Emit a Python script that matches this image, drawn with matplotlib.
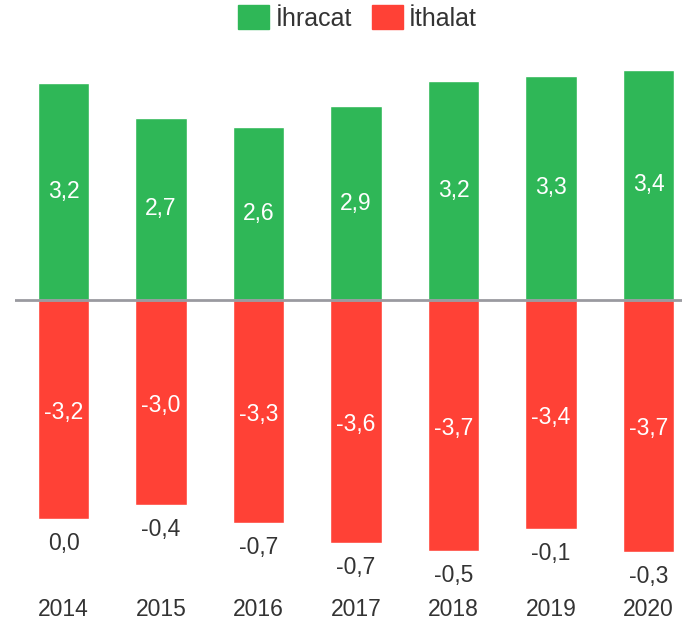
import numpy as np
import matplotlib
matplotlib.use('Agg')
import matplotlib.pyplot as plt
from matplotlib.patches import Patch
import matplotlib.transforms as mtransforms

plt.rcParams['font.family'] = ['Liberation Sans', 'DejaVu Sans']

years = ['2014', '2015', '2016', '2017', '2018', '2019', '2020']
exports = [3.21, 2.70, 2.56, 2.87, 3.24, 3.32, 3.41]
imports = [-3.24, -3.04, -3.30, -3.60, -3.72, -3.39, -3.74]
net = [0.0, -0.4, -0.7, -0.7, -0.5, -0.1, -0.3]

green = '#2fb757'
red = '#ff4136'
dark = '#333333'
fs = 16.5


def fmt(v):
    s = '%.1f' % v
    if s == '-0.0':
        s = '0.0'
    return s.replace('.', ',')


W, H = 682, 626
fig = plt.figure(figsize=(W / 100, H / 100), dpi=100)

# axes placement in pixels
left_px, right_px = 15, 682
top_px, bottom_px = 45, 626
ax = fig.add_axes([left_px / W, 0, (right_px - left_px) / W, (bottom_px - top_px) / H])

x = np.arange(len(years))
unit_x = 97.5
unit_y = 67.5
zero_px = 300
ax.set_xlim((left_px - 63.5) / unit_x, (right_px - 63.5) / unit_x)
ax.set_ylim(-(bottom_px - zero_px) / unit_y, (zero_px - top_px) / unit_y)

ax.bar(x, exports, width=0.53, color=green, edgecolor='white', linewidth=1, zorder=2)
ax.bar(x, imports, width=0.53, color=red, edgecolor='white', linewidth=1, zorder=2)
ax.axhline(0, color='#9a9aa0', lw=2, zorder=3)

for i in range(len(years)):
    ax.text(x[i], exports[i] / 2, fmt(exports[i]), ha='center', va='center',
            color='white', fontsize=fs, zorder=4)
    ax.text(x[i], imports[i] / 2 - 0.04, fmt(imports[i]), ha='center', va='center',
            color='white', fontsize=fs, zorder=4)
    ax.annotate(fmt(net[i]), (x[i], imports[i]), xytext=(0, -17.5),
                textcoords='offset points', ha='center', va='center',
                color=dark, fontsize=fs)

trans = mtransforms.blended_transform_factory(ax.transData, ax.transAxes)
for i, yr in enumerate(years):
    ax.text(x[i], (bottom_px - 610) / (bottom_px - top_px), yr, transform=trans,
            ha='center', va='center', color=dark, fontsize=fs)

ax.axis('off')

handles = [Patch(color=green, label='İhracat'), Patch(color=red, label='İthalat')]
fig.legend(handles=handles, loc='center', bbox_to_anchor=(357.5 / W, 1 - 18 / H),
           ncol=2, frameon=False, fontsize=18, handlelength=1.24, handleheight=1.08,
           handletextpad=0.24, columnspacing=0.8, labelcolor=dark)

fig.savefig('out.png', dpi=100)
